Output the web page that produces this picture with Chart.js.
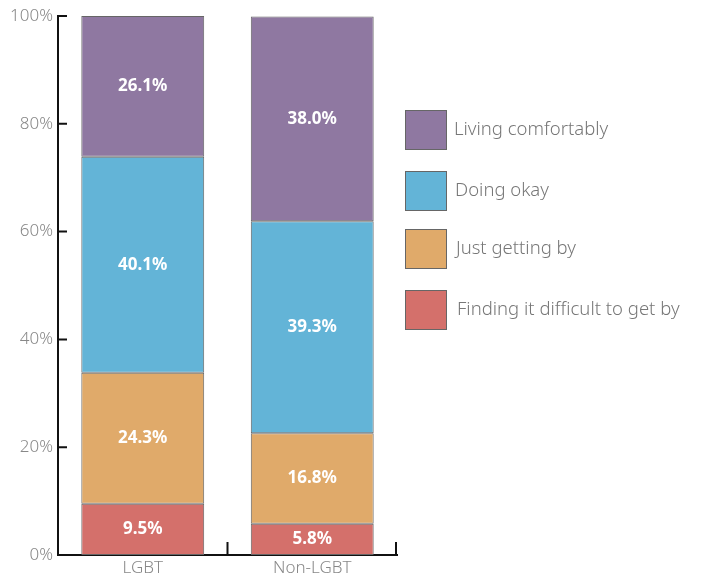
<!DOCTYPE html>
<html>
  <head>
    <title>Financial wellbeing</title>
    <style>
      body { margin: 0; background: #fff; }
      .wrap { width: 707px; height: 577px; position: relative; }
    </style>
  </head>
  <body>
    <div class="wrap">
      <canvas id="chart" width="707" height="577"></canvas>
    </div>

    <script src="https://cdn.jsdelivr.net/npm/chart.js"></script>
    <script>
      // data, bottom segment first
      var groups = ['LGBT', 'Non-LGBT']
      var seriesNames = ['Finding it difficult to get by', 'Just getting by', 'Doing okay', 'Living comfortably']
      var difficult = [9.5, 5.8]
      var gettingBy = [24.3, 16.8]
      var doingOkay = [40.1, 39.3]
      var comfortable = [26.1, 38.0]
      var yTicks = [0, 20, 40, 60, 80, 100]

      var colors = ['#d4706b', '#e0aa6a', '#63b4d7', '#8f78a1']
      var font = '"Noto Sans", "Open Sans", sans-serif'

      var datasets = [difficult, gettingBy, doingOkay, comfortable].map(function(vals, i) {
        return {
          label: seriesNames[i],
          data: vals,
          backgroundColor: colors[i],
          borderColor: '#666',
          borderWidth: 1,
          borderSkipped: false,
          categoryPercentage: 1,
          barPercentage: 0.725
        }
      })

      // labels inside segments + axis ticks + legend
      const extras = {
        id: 'extras',
        afterDatasetsDraw(chart) {
          const ctx = chart.ctx
          ctx.save()
          ctx.fillStyle = '#fff'
          ctx.font = 'bold 17px ' + font
          ctx.textAlign = 'center'
          ctx.textBaseline = 'middle'
          chart.data.datasets.forEach((ds, i) => {
            chart.getDatasetMeta(i).data.forEach((bar, j) => {
              const mid = (bar.y + bar.base) / 2
              ctx.fillText(ds.data[j].toFixed(1) + '%', bar.x, mid)
            })
          })
          ctx.restore()
        },
        afterDraw(chart) {
          const ctx = chart.ctx
          const area = chart.chartArea
          const x = chart.scales.x
          const y = chart.scales.y
          ctx.save()
          ctx.strokeStyle = '#111'
          ctx.lineWidth = 2
          ctx.beginPath()
          // y axis ticks pointing inward
          yTicks.forEach(v => {
            const py = y.getPixelForValue(v)
            ctx.moveTo(area.left, py)
            ctx.lineTo(area.left + 9, py)
          })
          // x axis ticks at category boundaries
          for (let i = 0; i < groups.length; i++) {
            let px = i < groups.length - 1
              ? (x.getPixelForValue(i) + x.getPixelForValue(i + 1)) / 2
              : area.right - 1
            ctx.moveTo(px, area.bottom)
            ctx.lineTo(px, area.bottom - 13)
          }
          ctx.stroke()

          // legend, top series first
          const boxX = area.right + 8
          const tops = [110, 171, 229, 290]
          ctx.font = '300 18.5px ' + font
          ctx.textBaseline = 'middle'
          ctx.textAlign = 'left'
          ctx.lineWidth = 1
          ctx.strokeStyle = '#666'
          const order = chart.data.datasets.slice().reverse()
          order.forEach((ds, k) => {
            ctx.fillStyle = ds.backgroundColor
            ctx.fillRect(boxX, tops[k], 42, 40)
            ctx.strokeRect(boxX + 0.5, tops[k] + 0.5, 41, 39)
            ctx.fillStyle = '#777'
            ctx.fillText(ds.label, boxX + 49 + k, tops[k] + 20)
          })
          ctx.restore()
        }
      }

      const chartEl = document.getElementById('chart')

      new Chart(chartEl, {
        type: 'bar',
        data: {
          labels: groups,
          datasets: datasets
        },
        options: {
          responsive: false,
          animation: false,
          layout: { padding: { top: 16, right: 310, left: 0, bottom: 0 } },
          plugins: {
            legend: { display: false },
            tooltip: { enabled: false }
          },
          scales: {
            x: {
              stacked: true,
              offset: true,
              grid: { display: false, drawTicks: false },
              border: { display: true, color: '#111', width: 2 },
              ticks: { color: '#888', font: { family: font, size: 17, weight: 300 }, padding: 3 },
              afterFit: function(s) { s.height = 22 }
            },
            y: {
              stacked: true,
              min: 0,
              max: 100,
              grid: { display: false, drawTicks: false },
              border: { display: true, color: '#111', width: 2 },
              afterBuildTicks: function(s) { s.ticks = yTicks.map(v => ({ value: v })) },
              ticks: {
                color: '#888',
                font: { family: font, size: 17, weight: 300 },
                padding: 5,
                callback: v => v + '%'
              },
              afterFit: function(s) { s.width = 58 }
            }
          }
        },
        plugins: [extras]
      })
    </script>
  </body>
</html>
